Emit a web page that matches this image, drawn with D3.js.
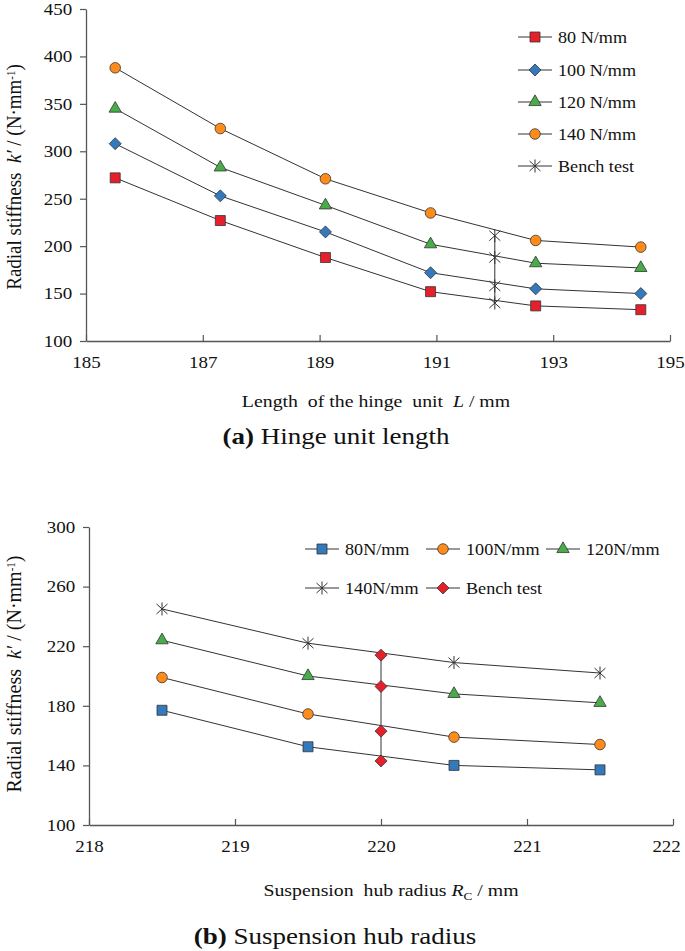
<!DOCTYPE html>
<html>
<head>
<meta charset="utf-8">
<script src="https://cdn.jsdelivr.net/npm/d3@7"></script>
<style>
  body { margin: 0; background: #fff; }
  svg { display: block; }
</style>
</head>
<body>
<svg id="chart" width="685" height="951"></svg>
<script>
// (a) hinge unit length
var hingeLength = [185.5, 187.3, 189.1, 190.9, 192.7, 194.5];
var hinge80  = [272, 227, 188, 152, 137, 133];
var hinge100 = [308, 253, 215, 172, 155, 150];
var hinge120 = [345, 283, 243, 202, 182, 177];
var hinge140 = [388, 324, 271, 235, 206, 199];
var hingeBenchX = 192;
var hingeBench = [211, 188, 158, 140];
var hingeTicksX = [185, 187, 189, 191, 193, 195];
var hingeTicksY = [100, 150, 200, 250, 300, 350, 400, 450];
var hingeNames = ["80 N/mm", "100 N/mm", "120 N/mm", "140 N/mm", "Bench test"];

// (b) suspension hub radius
var hubRadius = [218.5, 219.5, 220.5, 221.5];
var hub80  = [177, 152.5, 140, 137];
var hub100 = [199, 174.5, 159, 154];
var hub120 = [224, 200, 188, 182];
var hub140 = [245, 222, 209, 202];
var hubBenchX = 220;
var hubBench = [214, 193, 163, 143];
var hubTicksX = [218, 219, 220, 221, 222];
var hubTicksY = [100, 140, 180, 220, 260, 300];
var hubNames = ["80N/mm", "100N/mm", "120N/mm", "140N/mm", "Bench test"];

var RED = "#e5202a", BLUE = "#3579bd", GREEN = "#48ad48", ORANGE = "#ff8c1a";
var FONT = "'Liberation Serif', 'Times New Roman', serif";
var SX = 1.15;  // the source figure is a bit stretched sideways

var svg = d3.select("#chart");

function markerPath(type) {
  if (type == "square") return d3.symbol(d3.symbolSquare, 100)();
  if (type == "circle") return d3.symbol(d3.symbolCircle, 88)();
  if (type == "triangle") return d3.symbol(d3.symbolTriangle, 66)();
  if (type == "diamond") return "M0,-6L6,0L0,6L-6,0Z";
  // asterisk: vertical bar plus a cross
  return "M0,-6.5V6.5M-5.5,-5L5.5,5M-5.5,5L5.5,-5";
}

function drawMarker(g, type, fill, x, y) {
  g.append("path")
    .attr("d", markerPath(type))
    .attr("transform", "translate(" + x + "," + y + ")")
    .attr("fill", type == "asterisk" ? "none" : fill)
    .attr("stroke", "#333")
    .attr("stroke-width", type == "asterisk" ? 1 : 0.8);
}

function sText(g, x, y, anchor, size, sx) {
  return g.append("text")
    .attr("transform", "translate(" + x + "," + y + ") scale(" + (sx || SX) + ",1)")
    .attr("text-anchor", anchor)
    .attr("fill", "#111")
    .style("font-family", FONT)
    .style("font-size", size + "px");
}

function panel(opt) {
  var g = svg.append("g");
  var x = d3.scaleLinear().domain(opt.xDomain).range(opt.xRange);
  var y = d3.scaleLinear().domain(opt.yDomain).range(opt.yRange);

  var yAxis = g.append("g")
    .attr("transform", "translate(" + opt.xRange[0] + ",0)")
    .call(d3.axisLeft(y).tickValues(opt.yTicks).tickFormat(d3.format("d"))
      .tickSize(6).tickSizeOuter(0).tickPadding(6));
  var xAxis = g.append("g")
    .attr("transform", "translate(0," + opt.yRange[0] + ")")
    .call(d3.axisBottom(x).tickValues(opt.xTicks).tickFormat(d3.format("d"))
      .tickSizeInner(-6).tickSizeOuter(0).tickPadding(15));

  [xAxis, yAxis].forEach(function(a) {
    a.select(".domain").attr("stroke", "#555").attr("stroke-width", 1.3);
    a.selectAll(".tick line").attr("stroke", "#555").attr("stroke-width", 1.2);
    a.selectAll(".tick text")
      .attr("fill", "#111")
      .style("font-family", FONT)
      .style("font-size", "16.5px")
      .attr("transform", "scale(" + SX + ",1)");
  });
  // last x label sits against the page edge, nudge it in
  xAxis.selectAll(".tick text").filter(function(d, i, n) { return i == n.length - 1; })
    .attr("x", opt.lastTickShift);

  var line = d3.line().x(function(d) { return x(d[0]); }).y(function(d) { return y(d[1]); });

  // series lines then markers
  opt.series.forEach(function(s) {
    var pts = opt.xs.map(function(v, i) { return [v, s.vals[i]]; });
    g.append("path").attr("d", line(pts)).attr("fill", "none")
      .attr("stroke", "#333").attr("stroke-width", 1);
  });

  // bench test vertical
  g.append("line")
    .attr("x1", x(opt.benchX)).attr("x2", x(opt.benchX))
    .attr("y1", y(d3.max(opt.bench))).attr("y2", y(d3.min(opt.bench)))
    .attr("stroke", "#333").attr("stroke-width", 1);

  opt.series.forEach(function(s) {
    opt.xs.forEach(function(v, i) { drawMarker(g, s.sym, s.fill, x(v), y(s.vals[i])); });
  });
  opt.bench.forEach(function(v) { drawMarker(g, opt.benchSym, opt.benchFill, x(opt.benchX), y(v)); });

  // legend
  var items = opt.series.map(function(s) { return { sym: s.sym, fill: s.fill }; })
    .concat([{ sym: opt.benchSym, fill: opt.benchFill }]);
  items.forEach(function(it, i) {
    var p = opt.legendPos[i];
    g.append("line").attr("x1", p[0]).attr("x2", p[0] + 34)
      .attr("y1", p[1]).attr("y2", p[1]).attr("stroke", "#333").attr("stroke-width", 1);
    drawMarker(g, it.sym, it.fill, p[0] + 17, p[1]);
    sText(g, p[0] + 40, p[1] + 5.5, "start", 16.5, 1.1).text(opt.names[i]);
  });

  // y label
  var yl = g.append("text")
    .attr("transform", "translate(" + opt.yLabel[0] + "," + opt.yLabel[1] + ") scale(1.05,1) rotate(-90)")
    .attr("text-anchor", "middle")
    .attr("fill", "#111")
    .style("font-family", FONT)
    .style("font-size", opt.yLabelSize + "px");
  yl.append("tspan").text("Radial stiffness\u00a0\u00a0");
  yl.append("tspan").style("font-style", "italic").text("k\u2032");
  yl.append("tspan").text(" / (N\u00b7mm");
  yl.append("tspan").attr("dy", -6).style("font-size", "11px").text("-1");
  yl.append("tspan").attr("dy", 6).text(")");

  // x label
  var xl = sText(g, opt.xLabel[0], opt.xLabel[1], "middle", 16.5, 1.2);
  opt.xLabelParts(xl);

  // caption
  var cap = sText(g, opt.caption[0], opt.caption[1], "middle", 22.5, 1.2);
  cap.append("tspan").style("font-weight", "bold").text(opt.capLetter);
  cap.append("tspan").text(" " + opt.capText);
}

panel({
  xDomain: [185, 195], xRange: [86, 670],
  yDomain: [100, 450], yRange: [341, 9],
  xTicks: hingeTicksX, yTicks: hingeTicksY,
  lastTickShift: 0,
  xs: hingeLength,
  series: [
    { vals: hinge80, sym: "square", fill: RED },
    { vals: hinge100, sym: "diamond", fill: BLUE },
    { vals: hinge120, sym: "triangle", fill: GREEN },
    { vals: hinge140, sym: "circle", fill: ORANGE }
  ],
  benchX: hingeBenchX, bench: hingeBench, benchSym: "asterisk", benchFill: "none",
  names: hingeNames,
  legendPos: [[518, 37], [518, 70], [518, 102], [518, 134], [518, 166]],
  yLabel: [21, 177], yLabelSize: 19,
  xLabel: [376, 407],
  xLabelParts: function(t) {
    t.append("tspan").text("Length\u00a0 of the hinge\u00a0 unit\u00a0 ");
    t.append("tspan").style("font-style", "italic").text("L");
    t.append("tspan").text(" / mm");
  },
  caption: [336, 444],
  capLetter: "(a)", capText: "Hinge unit length"
});

panel({
  xDomain: [218, 222], xRange: [89, 673],
  yDomain: [100, 300], yRange: [825, 527],
  xTicks: hubTicksX, yTicks: hubTicksY,
  lastTickShift: -6,
  xs: hubRadius,
  series: [
    { vals: hub80, sym: "square", fill: BLUE },
    { vals: hub100, sym: "circle", fill: ORANGE },
    { vals: hub120, sym: "triangle", fill: GREEN },
    { vals: hub140, sym: "asterisk", fill: "none" }
  ],
  benchX: hubBenchX, bench: hubBench, benchSym: "diamond", benchFill: RED,
  names: hubNames,
  legendPos: [[305, 549], [426, 549], [546, 549], [305, 588], [426, 588]],
  yLabel: [21, 674], yLabelSize: 20,
  xLabel: [391, 896],
  xLabelParts: function(t) {
    t.append("tspan").text("Suspension\u00a0 hub radius ");
    t.append("tspan").style("font-style", "italic").text("R");
    t.append("tspan").attr("dy", 4).style("font-size", "11px").text("C");
    t.append("tspan").attr("dy", -4).text(" / mm");
  },
  caption: [335, 944],
  capLetter: "(b)", capText: "Suspension hub radius"
});
</script>
</body>
</html>
